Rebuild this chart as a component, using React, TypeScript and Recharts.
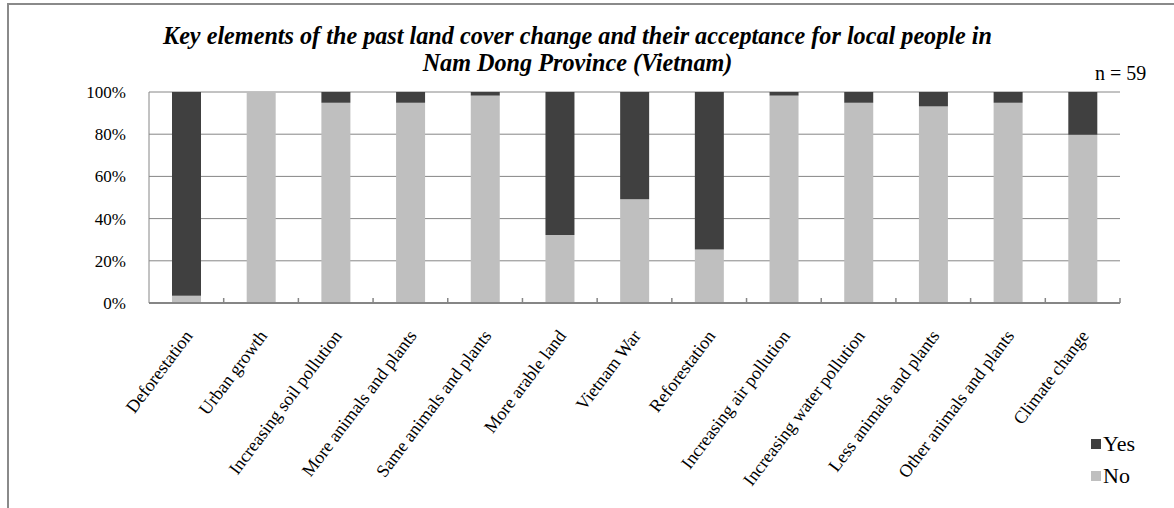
import React from "react";
import { BarChart, Bar, XAxis, YAxis, CartesianGrid, Legend } from "recharts";

const CATEGORIES = [
  "Deforestation",
  "Urban growth",
  "Increasing soil pollution",
  "More animals and plants",
  "Same animals and plants",
  "More arable land",
  "Vietnam War",
  "Reforestation",
  "Increasing air pollution",
  "Increasing water pollution",
  "Less animals and plants",
  "Other animals and plants",
  "Climate change",
];

// share of respondents (%), n = 59
const NO_VALUES = [3.4, 100, 94.9, 94.9, 98.3, 32.2, 49.2, 25.4, 98.3, 94.9, 93.2, 94.9, 79.7];
const YES_VALUES = [96.6, 0, 5.1, 5.1, 1.7, 67.8, 50.8, 74.6, 1.7, 5.1, 6.8, 5.1, 20.3];

const Y_TICKS = [0, 20, 40, 60, 80, 100];

const SERIF = '"Liberation Serif", "Times New Roman", serif';
const GRID = "#868686";
const DARK = "#404040";
const LIGHT = "#bfbfbf";

const data = CATEGORIES.map((name, i) => ({ name, no: NO_VALUES[i], yes: YES_VALUES[i] }));

function CategoryTick(props: any) {
  const { x, y, payload } = props;
  const half = payload.offset ?? 37.35;
  return (
    <g>
      <line x1={x + half} x2={x + half} y1={y} y2={y - 5} stroke={GRID} strokeWidth={1.5} />
      <text
        transform={`translate(${x + 7},${y + 33}) rotate(-53)`}
        textAnchor="end"
        fontSize={18}
        fontFamily="Liberation Serif"
        fill="#000"
      >
        {payload.value}
      </text>
    </g>
  );
}

function PercentTick(props: any) {
  const { x, y, payload } = props;
  return (
    <text x={x} y={y} dy="0.35em" textAnchor="end" fontSize={17} fontFamily="Liberation Serif" fill="#000">
      {payload.value}%
    </text>
  );
}

function LegendBox(props: any) {
  const items = [...(props.payload || [])].reverse();
  return (
    <div>
      {items.map((it: any) => (
        <div key={it.value} style={{ height: 32, display: "flex", alignItems: "center" }}>
          <span style={{ width: 10, height: 10, background: it.color, display: "inline-block", marginRight: 2 }} />
          <span style={{ fontFamily: "Liberation Serif", fontSize: 22, color: "#000" }}>{it.value}</span>
        </div>
      ))}
    </div>
  );
}

export default function App() {
  return (
    <div
      style={{
        position: "absolute",
        left: 0,
        top: 0,
        width: 1174,
        height: 508,
        overflow: "hidden",
        background: "#fff",
        fontFamily: SERIF,
      }}
    >
      <div
        style={{
          position: "absolute",
          left: 7,
          top: 3,
          width: 1250,
          height: 600,
          borderTop: "2px solid #8a8a8a",
          borderLeft: "2px solid #8a8a8a",
        }}
      />
      <div
        style={{
          position: "absolute",
          left: 0,
          top: 22,
          width: 1155,
          textAlign: "center",
          fontSize: 24.2,
          lineHeight: "27px",
          fontWeight: "bold",
          fontStyle: "italic",
        }}
      >
        Key elements of the past land cover change and their acceptance for local people in
        <br />
        Nam Dong Province (Vietnam)
      </div>
      <div style={{ position: "absolute", left: 1095, top: 62, fontSize: 20, lineHeight: "22px" }}>n = 59</div>
      <div style={{ position: "absolute", left: 0, top: 0 }}>
        <BarChart width={1174} height={508} data={data} margin={{ top: 92, right: 54, bottom: 5, left: 0 }}>
          <CartesianGrid vertical={false} stroke={GRID} strokeWidth={1} />
          <XAxis
            dataKey="name"
            interval={0}
            height={200}
            tickLine={false}
            tickSize={0}
            tickMargin={0}
            axisLine={{ stroke: GRID, strokeWidth: 2 }}
            tick={<CategoryTick />}
          />
          <YAxis
            width={149}
            domain={[0, 100]}
            ticks={Y_TICKS}
            tickLine={false}
            tickSize={0}
            tickMargin={23}
            axisLine={{ stroke: GRID, strokeWidth: 1 }}
            tick={<PercentTick />}
          />
          <Legend
            layout="vertical"
            align="center"
            verticalAlign="middle"
            content={<LegendBox />}
            wrapperStyle={{ left: 1091, top: 428, width: 70 }}
          />
          <Bar dataKey="no" name="No" stackId="a" fill={LIGHT} barSize={29} isAnimationActive={false} />
          <Bar dataKey="yes" name="Yes" stackId="a" fill={DARK} barSize={29} isAnimationActive={false} />
        </BarChart>
      </div>
    </div>
  );
}
